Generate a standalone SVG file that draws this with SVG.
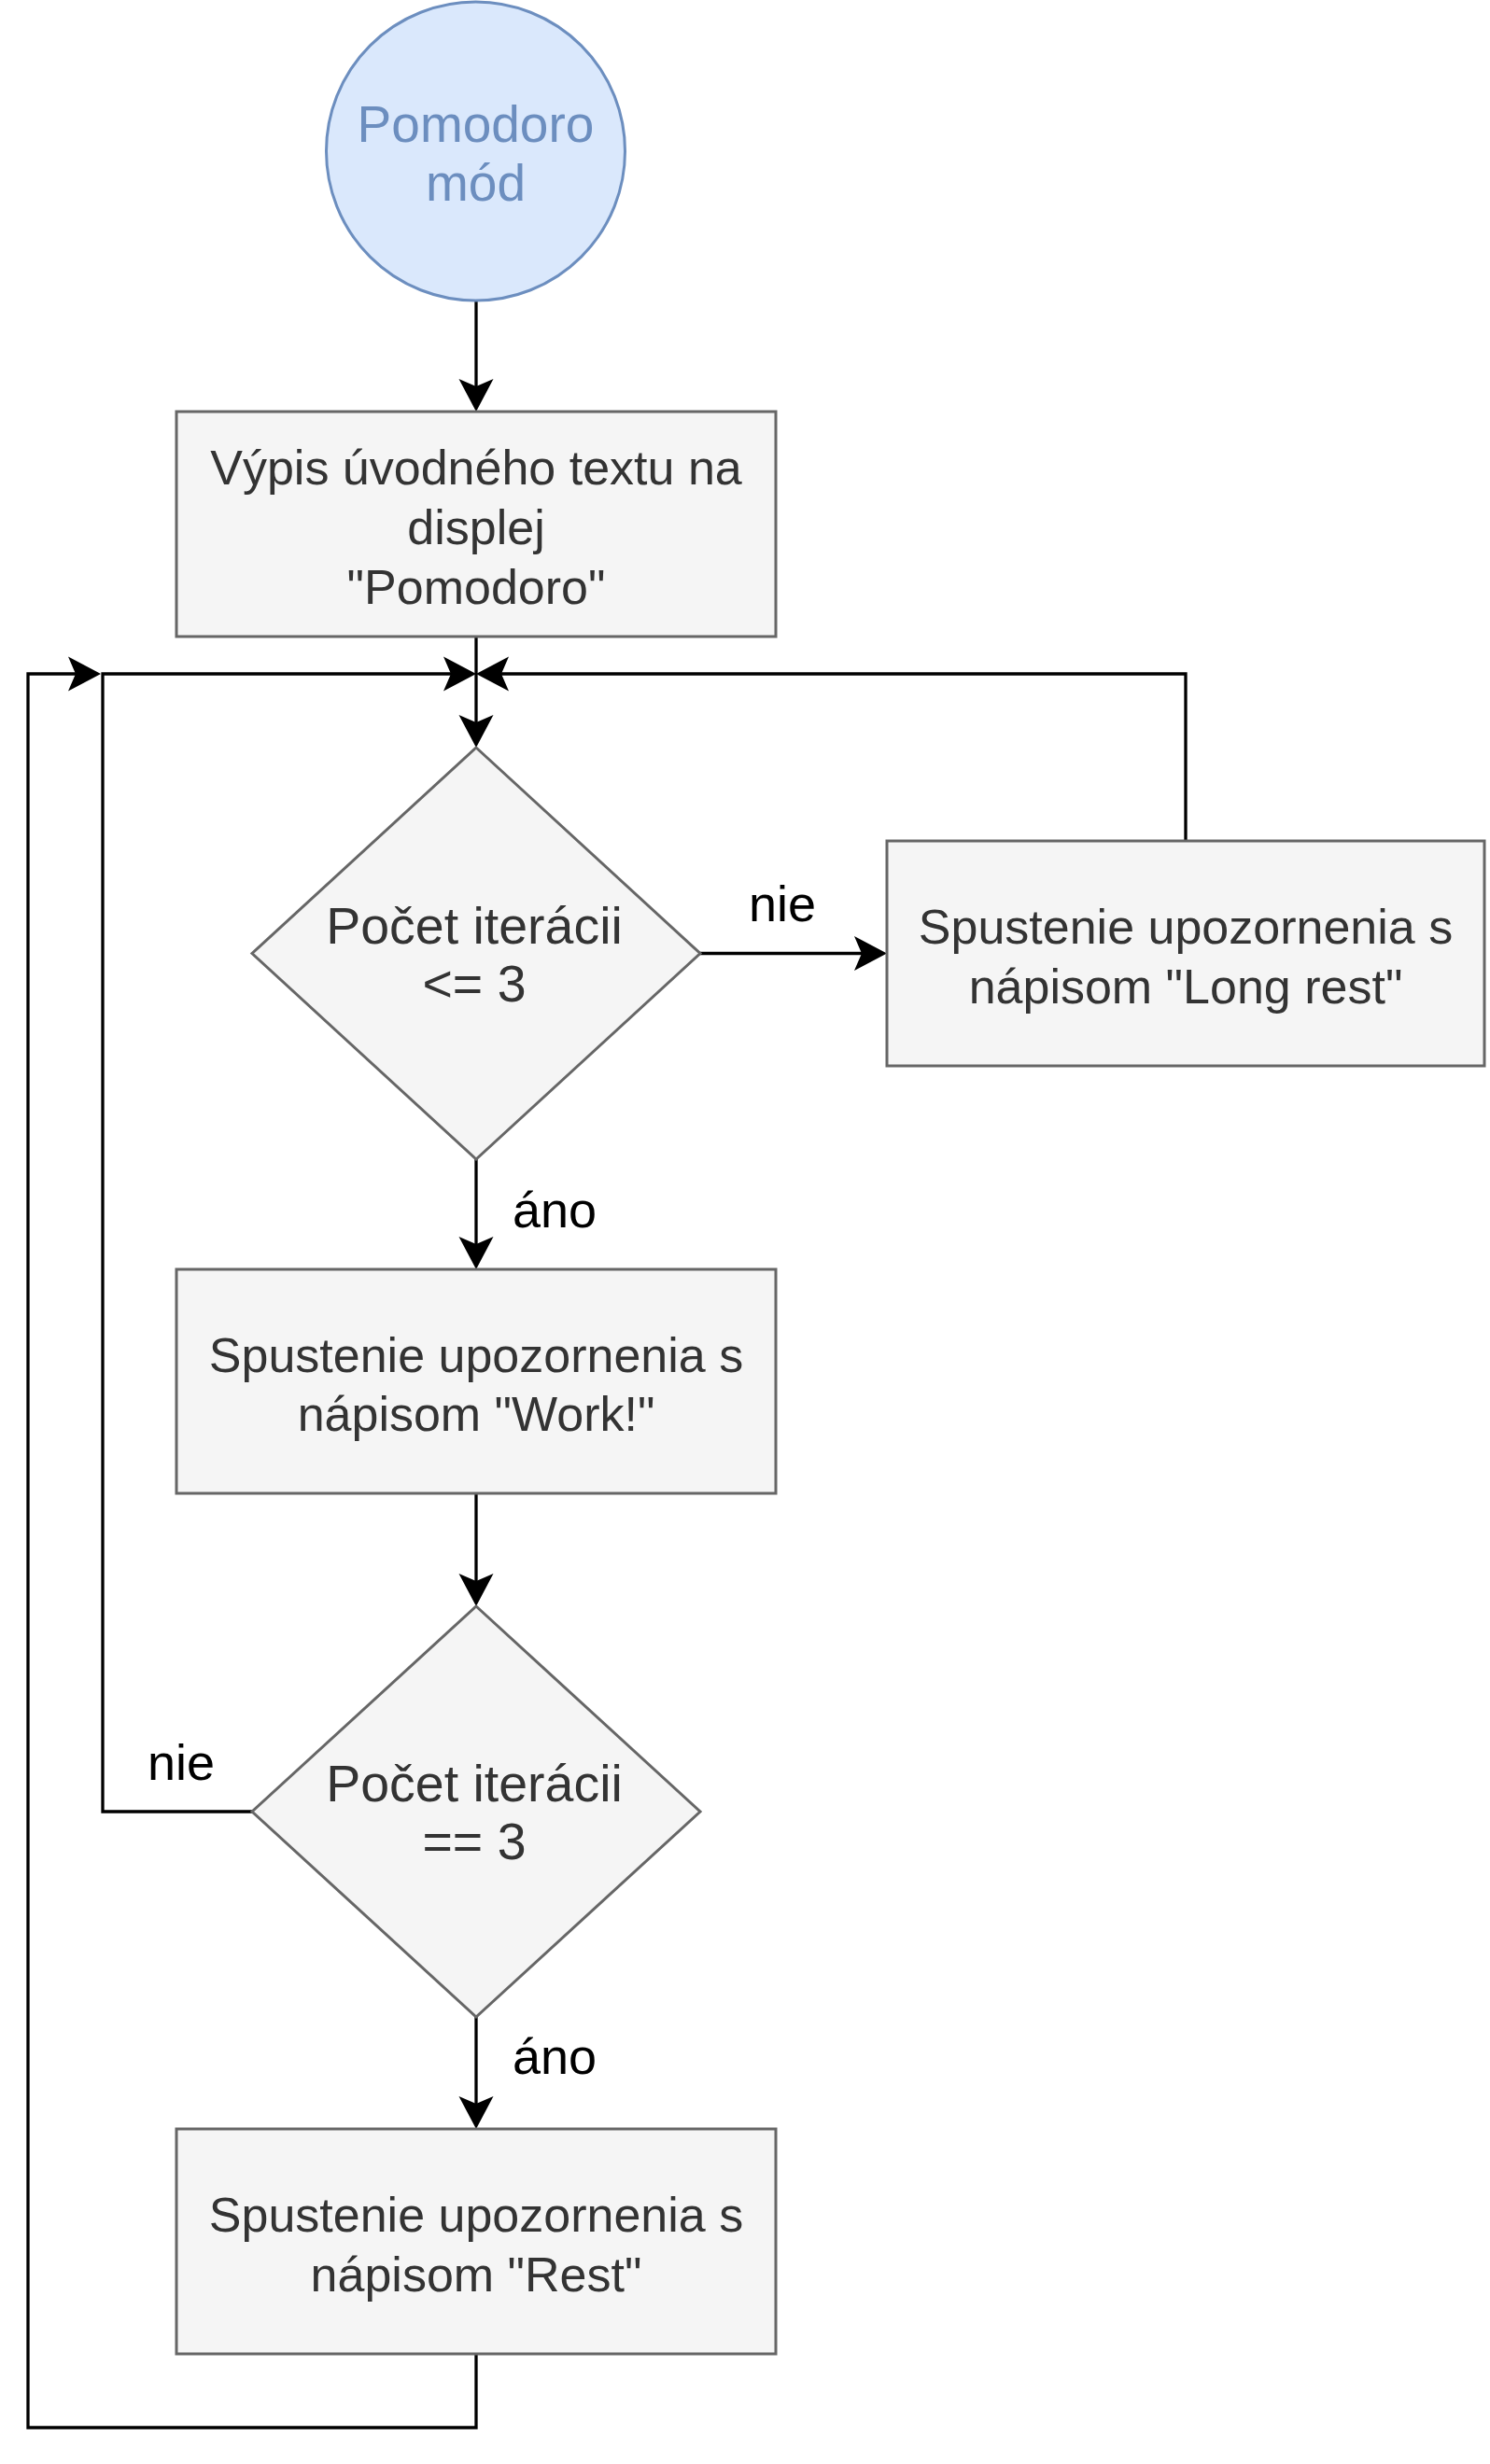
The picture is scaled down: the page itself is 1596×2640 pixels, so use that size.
<svg xmlns="http://www.w3.org/2000/svg" width="1596" height="2640" viewBox="0 0 1596 2640">
<style>
.box{fill:#f5f5f5;stroke:#666666;stroke-width:3}
.t{font-family:"Liberation Sans",Arial,Helvetica,sans-serif;font-size:52px;fill:#333333;text-anchor:middle}
.d{font-size:55.5px}
.lbl{font-family:"Liberation Sans",Arial,Helvetica,sans-serif;font-size:54px;fill:#000000}
.c{fill:none;stroke:#000000;stroke-width:3.3}
.a{marker-end:url(#arr)}
</style>
<defs>
<marker id="arr" markerUnits="userSpaceOnUse" viewBox="-9 -20 37 40" markerWidth="37" markerHeight="40" refX="0" refY="0" orient="auto">
<path d="M27,0 L-8,-18.5 L0,0 L-8,18.5 Z" fill="#000000"/>
</marker>
</defs>
<rect width="1596" height="2640" fill="#ffffff"/>
<g id="connectors">
<path class="c a" d="M510,322 L510,414"/>
<path class="c a" d="M510,682 L510,774"/>
<path class="c a" d="M1270,901 L1270,722 L537,722"/>
<path class="c a" d="M749,1021.5 L923,1021.5"/>
<path class="c a" d="M510,1241 L510,1333"/>
<path class="c a" d="M510,1600 L510,1694"/>
<path class="c a" d="M270,1941 L110,1941 L110,722 L483,722"/>
<path class="c a" d="M510,2161 L510,2254"/>
<path class="c a" d="M510,2521 L510,2601 L30,2601 L30,722 L81,722"/>
<text class="lbl" x="838" y="987" text-anchor="middle">nie</text>
<text class="lbl" x="549" y="1315">áno</text>
<text class="lbl" x="194" y="1907" text-anchor="middle">nie</text>
<text class="lbl" x="549" y="2222">áno</text>
</g>
<g id="start">
<circle cx="509.5" cy="162" r="160" fill="#dae8fc" stroke="#6c8ebf" stroke-width="3"/>
<text class="t" style="fill:#6c8ebf;font-size:55px" x="509.5" y="152">Pomodoro</text>
<text class="t" style="fill:#6c8ebf;font-size:55px" x="509.5" y="215">mód</text>
</g>
<g id="intro">
<rect class="box" x="189" y="441" width="642" height="241"/>
<text class="t" x="510" y="519">Výpis úvodného textu na</text>
<text class="t" x="510" y="583">displej</text>
<text class="t" x="510" y="647">"Pomodoro"</text>
</g>
<g id="cond1">
<polygon class="box" points="510,801 750,1021.5 510,1242 270,1021.5"/>
<text class="t d" x="508" y="1011">Počet iterácii</text>
<text class="t d" x="508" y="1073">&lt;= 3</text>
</g>
<g id="longrest">
<rect class="box" x="950" y="901" width="640" height="241"/>
<text class="t" x="1270" y="1011">Spustenie upozornenia s</text>
<text class="t" x="1270" y="1075">nápisom "Long rest"</text>
</g>
<g id="work">
<rect class="box" x="189" y="1360" width="642" height="240"/>
<text class="t" x="510" y="1470">Spustenie upozornenia s</text>
<text class="t" x="510" y="1533">nápisom "Work!"</text>
</g>
<g id="cond2">
<polygon class="box" points="510,1721 750,1941 510,2161 270,1941"/>
<text class="t d" x="508" y="1930">Počet iterácii</text>
<text class="t d" x="508" y="1992">== 3</text>
</g>
<g id="rest">
<rect class="box" x="189" y="2281" width="642" height="241"/>
<text class="t" x="510" y="2391">Spustenie upozornenia s</text>
<text class="t" x="510" y="2455">nápisom "Rest"</text>
</g>
</svg>
